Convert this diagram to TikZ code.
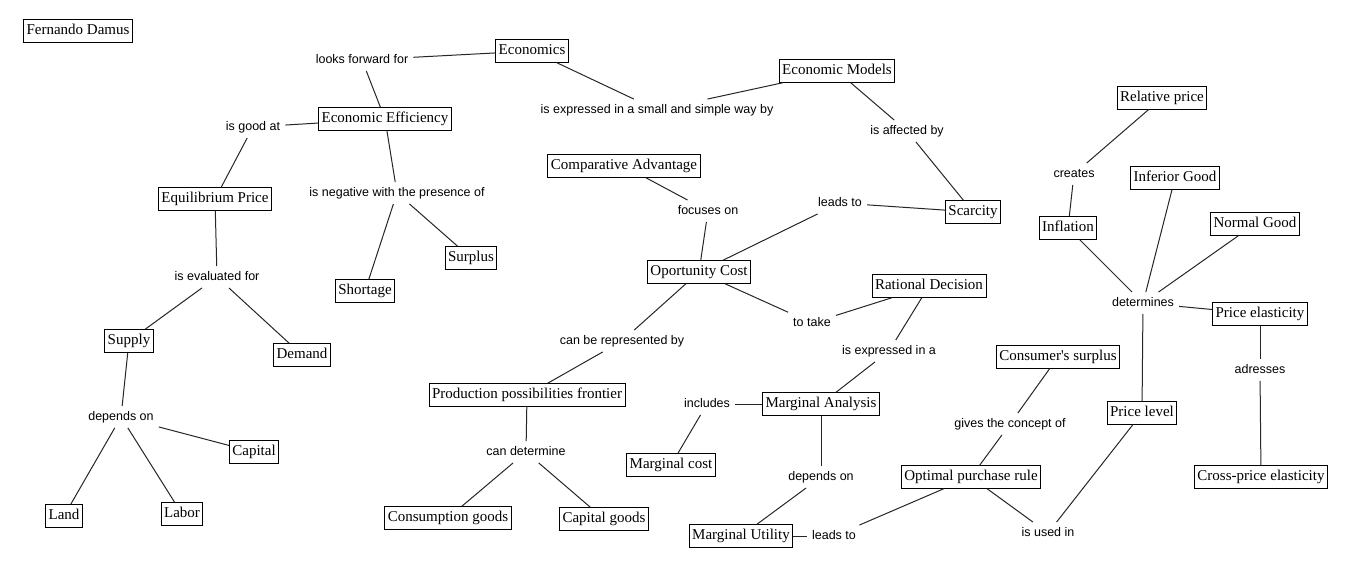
\documentclass[tikz,border=0pt]{standalone}
\usepackage{fontspec}
\setmainfont{Liberation Serif}
\newfontfamily\lblfont{Liberation Sans}
\begin{document}
\begin{tikzpicture}[x=1pt,y=-1pt,
  concept/.style={draw=black, line width=0.9pt, fill=white, inner xsep=3pt, inner ysep=4pt,
    text height=11pt, text depth=3.5pt, font=\fontsize{15}{18}\selectfont},
  phrase/.style={inner xsep=5pt, inner ysep=5pt, text height=9pt, text depth=2.5pt,
    font=\lblfont\fontsize{12.5}{15}\selectfont},
  link/.style={line width=1pt, black!85}]
\useasboundingbox (0,0) rectangle (1353,570);
% concepts
\node[concept] (fd) at (78,31) {Fernando Damus};
\node[concept] (eco) at (532,51) {Economics};
\node[concept] (em) at (837,71) {Economic Models};
\node[concept] (ee) at (385,119) {Economic Efficiency};
\node[concept] (rp) at (1162,98) {Relative price};
\node[concept] (ca) at (624,166) {Comparative Advantage};
\node[concept] (ep) at (215,199) {Equilibrium Price};
\node[concept] (ig) at (1175,178) {Inferior Good};
\node[concept] (sc) at (973,212) {Scarcity};
\node[concept] (ng) at (1255,224) {Normal Good};
\node[concept] (inf) at (1068,228) {Inflation};
\node[concept] (sur) at (471,258) {Surplus};
\node[concept] (oc) at (699,272) {Oportunity Cost};
\node[concept] (rd) at (929,286) {Rational Decision};
\node[concept] (sh) at (365,291) {Shortage};
\node[concept] (pe) at (1260,314) {Price elasticity};
\node[concept] (sup) at (129,341) {Supply};
\node[concept] (dem) at (302,355) {Demand};
\node[concept] (cs) at (1058,357) {Consumer\textquotesingle s surplus};
\node[concept] (ppf) at (527,395) {Production possibilities frontier};
\node[concept] (ma) at (821,404) {Marginal Analysis};
\node[concept] (pl) at (1142,413) {Price level};
\node[concept] (cap) at (254,452) {Capital};
\node[concept] (mc) at (671,465) {Marginal cost};
\node[concept] (opr) at (971,477) {Optimal purchase rule};
\node[concept] (cpe) at (1261,477) {Cross-price elasticity};
\node[concept] (land) at (64,516) {Land};
\node[concept] (lab) at (182,514) {Labor};
\node[concept] (cg) at (448,518) {Consumption goods};
\node[concept] (capg) at (604,519) {Capital goods};
\node[concept] (mu) at (741,536) {Marginal Utility};
% linking phrases
\node[phrase] (lff) at (362,60) {looks forward for};
\node[phrase] (iex) at (657,110) {is expressed in a small and simple way by};
\node[phrase] (iga) at (253,127) {is good at};
\node[phrase] (iab) at (907,131) {is affected by};
\node[phrase] (cre) at (1074,174) {creates};
\node[phrase] (inw) at (397,193) {is negative with the presence of};
\node[phrase] (foc) at (708,211) {focuses on};
\node[phrase] (lt1) at (840,203) {leads to};
\node[phrase] (ief) at (217,277) {is evaluated for};
\node[phrase] (det) at (1143,303) {determines};
\node[phrase] (tt) at (812,323) {to take};
\node[phrase] (cbr) at (622,341) {can be represented by};
\node[phrase] (iea) at (889,351) {is expressed in a};
\node[phrase] (adr) at (1260,370) {adresses};
\node[phrase] (inc) at (707,404) {includes};
\node[phrase] (dep1) at (121,417) {depends on};
\node[phrase] (gtc) at (1010,424) {gives the concept of};
\node[phrase] (cd) at (526,452) {can determine};
\node[phrase] (dep2) at (821,477) {depends on};
\node[phrase] (lt2) at (834,536) {leads to};
\node[phrase] (iui) at (1048,533) {is used in};
% connectors
\draw[link] (eco) -- (lff);
\draw[link] (lff) -- (ee);
\draw[link] (eco) -- (iex);
\draw[link] (iex) -- (em);
\draw[link] (em) -- (iab);
\draw[link] (iab) -- (sc);
\draw[link] (sc) -- (lt1);
\draw[link] (lt1) -- (oc);
\draw[link] (ca) -- (foc);
\draw[link] (foc) -- (oc);
\draw[link] (ee) -- (iga);
\draw[link] (iga) -- (ep);
\draw[link] (ee) -- (inw);
\draw[link] (inw) -- (sh);
\draw[link] (inw) -- (sur);
\draw[link] (ep) -- (ief);
\draw[link] (ief) -- (sup);
\draw[link] (ief) -- (dem);
\draw[link] (sup) -- (dep1);
\draw[link] (dep1) -- (land);
\draw[link] (dep1) -- (lab);
\draw[link] (dep1) -- (cap);
\draw[link] (oc) -- (cbr);
\draw[link] (cbr) -- (ppf);
\draw[link] (ppf) -- (cd);
\draw[link] (cd) -- (cg);
\draw[link] (cd) -- (capg);
\draw[link] (oc) -- (tt);
\draw[link] (tt) -- (rd);
\draw[link] (rd) -- (iea);
\draw[link] (iea) -- (ma);
\draw[link] (ma) -- (inc);
\draw[link] (inc) -- (mc);
\draw[link] (ma) -- (dep2);
\draw[link] (dep2) -- (mu);
\draw[link] (mu) -- (lt2);
\draw[link] (lt2) -- (opr);
\draw[link] (cs) -- (gtc);
\draw[link] (gtc) -- (opr);
\draw[link] (opr) -- (iui);
\draw[link] (iui) -- (pl);
\draw[link] (rp) -- (cre);
\draw[link] (cre) -- (inf);
\draw[link] (inf) -- (det);
\draw[link] (ig) -- (det);
\draw[link] (ng) -- (det);
\draw[link] (det) -- (pe);
\draw[link] (det) -- (pl);
\draw[link] (pe) -- (adr);
\draw[link] (adr) -- (cpe);
\end{tikzpicture}
\end{document}
